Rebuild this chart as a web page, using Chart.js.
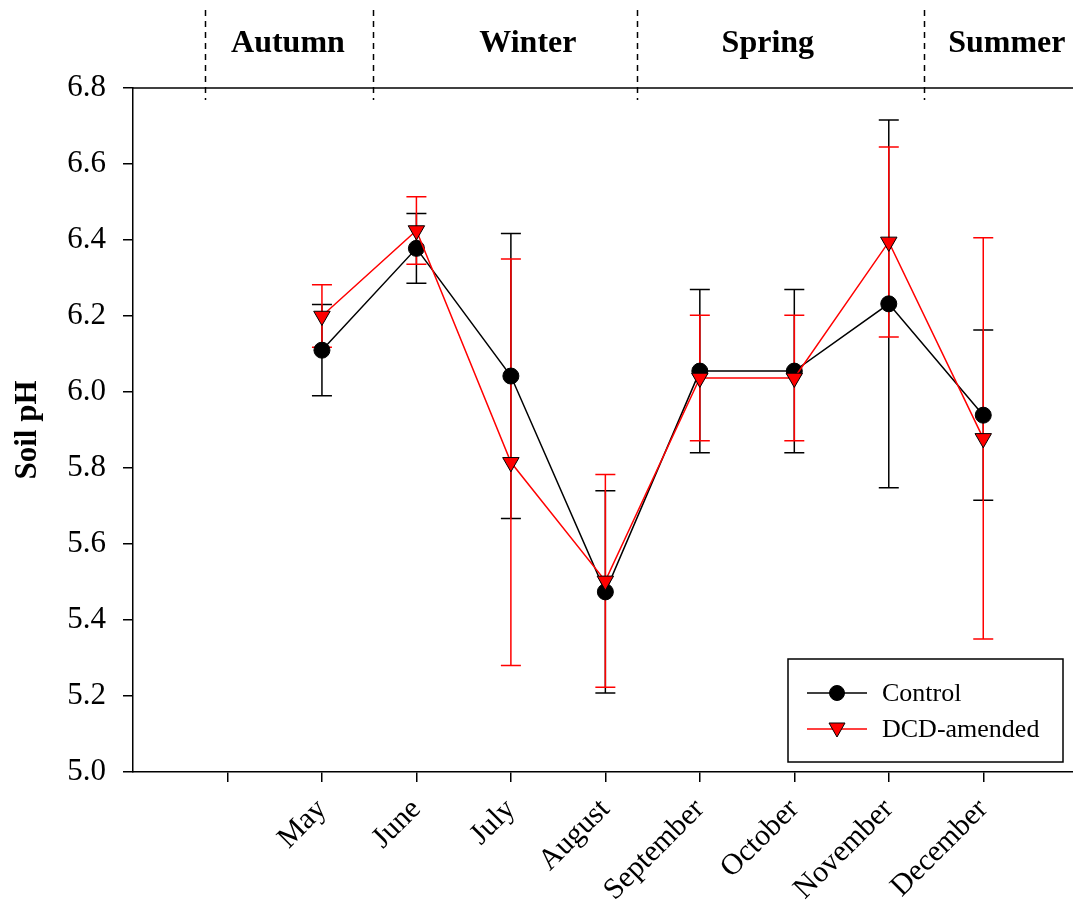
<!DOCTYPE html>
<html>
<head>
<meta charset="utf-8">
<script src="https://cdn.jsdelivr.net/npm/chart.js@4.4.0/dist/chart.umd.min.js"></script>
<style>
  html, body { margin: 0; padding: 0; background: #fff; }
  #wrap { width: 1073px; height: 909px; }
</style>
</head>
<body>
<div id="wrap"><canvas id="c" width="1073" height="909"></canvas></div>
<script>
// ---- data ----
const tickLabels = ['', 'May', 'June', 'July', 'August', 'September', 'October', 'November', 'December'];
const controlMean = [null, 6.11, 6.378, 6.042, 5.474, 6.055, 6.055, 6.232, 5.939];
const controlErr  = [null, 0.12, 0.092, 0.375, 0.266, 0.215, 0.215, 0.484, 0.224];
const dcdMean     = [null, 6.20, 6.425, 5.815, 5.503, 6.037, 6.037, 6.395, 5.878];
const dcdErr      = [null, 0.082, 0.089, 0.535, 0.28, 0.165, 0.165, 0.25, 0.528];
const seasons       = ['Autumn', 'Winter', 'Spring', 'Summer'];
const seasonLabelX  = [1.64, 4.18, 6.72, 9.25];
const seasonBounds  = [0.76, 2.54, 5.34, 8.375];
const yTicks = [5.0, 5.2, 5.4, 5.6, 5.8, 6.0, 6.2, 6.4, 6.6, 6.8];

const SERIF = "'Liberation Serif', 'Times New Roman', Times, serif";
Chart.defaults.font.family = SERIF;
Chart.defaults.color = '#000';

function toPoints(arr) {
  return arr.map((v, i) => v == null ? null : { x: i + 1, y: v }).filter(p => p);
}

const extras = {
  id: 'extras',
  beforeDatasetsDraw(chart) {
    const { ctx, scales: { x, y } } = chart;
    const sets = [[controlMean, controlErr, '#000000'], [dcdMean, dcdErr, '#ff0000']];
    ctx.save();
    sets.forEach(([m, e, c]) => {
      ctx.strokeStyle = c;
      ctx.lineWidth = 1.5;
      m.forEach((v, i) => {
        if (v == null) return;
        const px = x.getPixelForValue(i + 1);
        const t = y.getPixelForValue(v + e[i]);
        const b = y.getPixelForValue(v - e[i]);
        ctx.beginPath();
        ctx.moveTo(px, t); ctx.lineTo(px, b);
        ctx.moveTo(px - 10, t); ctx.lineTo(px + 10, t);
        ctx.moveTo(px - 10, b); ctx.lineTo(px + 10, b);
        ctx.stroke();
      });
    });
    ctx.restore();
  },
  afterDraw(chart) {
    const { ctx, chartArea: ca, scales: { x } } = chart;
    ctx.save();
    // top frame line
    ctx.strokeStyle = '#000';
    ctx.lineWidth = 1.5;
    ctx.beginPath();
    ctx.moveTo(ca.left, ca.top); ctx.lineTo(ca.right, ca.top);
    ctx.stroke();
    // season separators
    ctx.setLineDash([6, 5]);
    ctx.lineWidth = 1.5;
    seasonBounds.forEach(v => {
      const px = Math.round(x.getPixelForValue(v)) + 0.5;
      ctx.beginPath();
      ctx.moveTo(px, ca.top - 78); ctx.lineTo(px, ca.top + 12);
      ctx.stroke();
    });
    ctx.setLineDash([]);
    // season labels
    ctx.fillStyle = '#000';
    ctx.font = 'bold 32px ' + SERIF;
    ctx.textAlign = 'center';
    ctx.textBaseline = 'alphabetic';
    seasons.forEach((s, i) => {
      ctx.fillText(s, x.getPixelForValue(seasonLabelX[i]), ca.top - 36);
    });
    // legend
    const lx = 788, ly = 659, lw = 275, lh = 103;
    ctx.fillStyle = '#fff';
    ctx.fillRect(lx, ly, lw, lh);
    ctx.strokeStyle = '#000';
    ctx.lineWidth = 1.5;
    ctx.strokeRect(lx, ly, lw, lh);
    const ds = chart.data.datasets;
    const rows = [693, 729];
    ds.forEach((d, i) => {
      const ry = rows[i];
      ctx.strokeStyle = d.borderColor;
      ctx.lineWidth = 1.5;
      ctx.beginPath(); ctx.moveTo(807, ry); ctx.lineTo(867, ry); ctx.stroke();
      ctx.fillStyle = d.pointBackgroundColor;
      ctx.strokeStyle = '#000';
      ctx.lineWidth = 1;
      ctx.beginPath();
      if (d.pointStyle === 'circle') {
        ctx.arc(837, ry, 7.5, 0, Math.PI * 2);
      } else {
        ctx.moveTo(829, ry - 6); ctx.lineTo(845, ry - 6); ctx.lineTo(837, ry + 8); ctx.closePath();
      }
      ctx.fill(); ctx.stroke();
      ctx.fillStyle = '#000';
      ctx.font = '26px ' + SERIF;
      ctx.textAlign = 'left';
      ctx.textBaseline = 'middle';
      ctx.fillText(d.label, 882, ry + 1);
    });
    ctx.restore();
  }
};

new Chart(document.getElementById('c'), {
  type: 'line',
  data: {
    datasets: [
      {
        label: 'Control',
        data: toPoints(controlMean),
        borderColor: '#000000',
        borderWidth: 1.5,
        pointStyle: 'circle',
        pointRadius: 8,
        pointBackgroundColor: '#000000',
        pointBorderColor: '#000000',
        pointBorderWidth: 1,
        tension: 0,
        order: 2
      },
      {
        label: 'DCD-amended',
        data: toPoints(dcdMean),
        borderColor: '#ff0000',
        borderWidth: 1.5,
        pointStyle: 'triangle',
        rotation: 180,
        pointRotation: 180,
        pointRadius: 9.5,
        pointBackgroundColor: '#ff0000',
        pointBorderColor: '#000000',
        pointBorderWidth: 1,
        tension: 0,
        order: 1
      }
    ]
  },
  options: {
    responsive: false,
    animation: false,
    events: [],
    layout: { autoPadding: false, padding: { top: 88, left: 0, right: 0, bottom: 0 } },
    plugins: { legend: { display: false }, tooltip: { enabled: false } },
    scales: {
      x: {
        type: 'linear',
        min: 0,
        max: 9.95,
        afterBuildTicks(scale) {
          scale.ticks = tickLabels.map((_, i) => ({ value: i + 1 }));
        },
        afterFit(scale) {
          scale.height = 137;
          scale.paddingLeft = 0;
          scale.paddingRight = 0;
        },
        border: { display: true, color: '#000', width: 1.5 },
        grid: { drawOnChartArea: false, drawTicks: true, tickLength: 10, color: '#000', lineWidth: 1.5 },
        ticks: {
          autoSkip: false,
          minRotation: 45,
          maxRotation: 45,
          padding: 10,
          color: '#000',
          font: { size: 30, family: SERIF },
          callback: (v) => tickLabels[v - 1] ?? ''
        }
      },
      y: {
        type: 'linear',
        min: 5.0,
        max: 6.8,
        afterBuildTicks(scale) {
          scale.ticks = yTicks.map(v => ({ value: v }));
        },
        afterFit(scale) { scale.width = 133; },
        border: { display: true, color: '#000', width: 1.5 },
        grid: { drawOnChartArea: false, drawTicks: true, tickLength: 10, color: '#000', lineWidth: 1.5 },
        ticks: {
          padding: 17,
          color: '#000',
          font: { size: 31, family: SERIF },
          callback: (v) => Number(v).toFixed(1)
        },
        title: {
          display: true,
          text: 'Soil pH',
          color: '#000',
          font: { size: 31, weight: 'bold', family: SERIF },
          padding: { top: 9, bottom: 0 }
        }
      }
    }
  },
  plugins: [extras]
});
</script>
</body>
</html>
